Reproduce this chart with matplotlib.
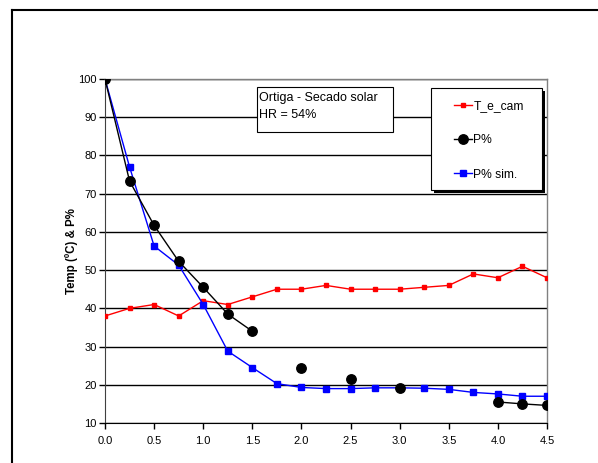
import numpy as np
import matplotlib
matplotlib.use("Agg")
from matplotlib import pyplot as plt
from matplotlib.patches import Rectangle
import matplotlib.patheffects as pe

plt.rcParams['font.family'] = ['Liberation Sans', 'DejaVu Sans']

# horas de secado
t = [0.0, 0.25, 0.5, 0.75, 1.0, 1.25, 1.5, 1.75, 2.0, 2.25,
     2.5, 2.75, 3.0, 3.25, 3.5, 3.75, 4.0, 4.25, 4.5]

t_e_cam = [38, 40, 41, 38, 42, 41, 43, 45, 45, 46,
           45, 45, 45, 45.5, 46, 49, 48, 51, 48]

nan = np.nan
p_exp = [100, 73.3, 61.7, 52.3, 45.5, 38.5, 34, nan, 24.4, nan,
         21.6, nan, 19.2, nan, nan, nan, 15.5, 15.0, 14.6]

p_sim = [100, 77, 56.3, 51.3, 41, 28.8, 24.5, 20.3, 19.3, 19,
         19, 19.2, 19.2, 19.1, 18.8, 18, 17.6, 17, 17]

fig = plt.figure(figsize=(5.98, 4.63), dpi=100)

# marco exterior del grafico
fig.add_artist(plt.Line2D([12/598, 12/598], [0, 1 - 10/463], color='black', lw=1.5))
fig.add_artist(plt.Line2D([12/598, 1], [1 - 10/463, 1 - 10/463], color='black', lw=1.5))

ax = fig.add_axes([105/598, 1 - 423/463, 442/598, 344/463])

ax.plot(t, t_e_cam, color='red', marker='s', markersize=3, lw=1, label='T_e_cam', zorder=3)
ax.plot(t, p_exp, color='black', marker='o', markersize=6.8, lw=1, label='P%', zorder=4)
ax.plot(t, p_sim, color='blue', marker='s', markersize=5, lw=1, label='P% sim.', zorder=3)

ax.set_xlim(0, 4.5)
ax.set_ylim(10, 100)
ax.set_xticks(np.arange(0, 4.51, 0.5))
ax.set_xticklabels(['%.1f' % v for v in np.arange(0, 4.51, 0.5)])
ax.set_yticks(range(10, 101, 10))
ax.yaxis.grid(True, color='black', lw=1)
ax.set_axisbelow(True)
ax.tick_params(labelsize=8, length=4, width=1, colors='black')
ax.tick_params(axis='x', pad=5)
ax.tick_params(axis='y', pad=2)

for side in ['top', 'right']:
    ax.spines[side].set_color('#808080')
    ax.spines[side].set_linewidth(1)
ax.spines['left'].set_color('#404040')
ax.spines['bottom'].set_color('black')

ax.set_ylabel('Temp (ºC) & P%', fontsize=8.3, fontweight='bold', labelpad=0)

# cuadro de texto
ax.add_patch(Rectangle((0.3439, 0.8459), 0.3077, 0.1308, transform=ax.transAxes,
                       facecolor='white', edgecolor='black', lw=0.8, clip_on=False, zorder=6))
ax.text(0.3484, 0.936, 'Ortiga - Secado solar', transform=ax.transAxes,
        fontsize=9, va='baseline', ha='left', zorder=7)
ax.text(0.3484, 0.8866, 'HR = 54%', transform=ax.transAxes,
        fontsize=9, va='baseline', ha='left', zorder=7)

# marco de la leyenda con sombra
box = Rectangle((0.7376, 0.6773), 0.2511, 0.2965, transform=ax.transAxes,
                facecolor='white', edgecolor='black', lw=0.8, clip_on=False, zorder=6)
box.set_path_effects([pe.SimplePatchShadow(offset=(2.2, -2.2), shadow_rgbFace='black', alpha=1),
                      pe.Normal()])
ax.add_patch(box)

leg = ax.legend(loc='upper left', bbox_to_anchor=(0.7896, 0.939), fontsize=8.7,
                labelspacing=1.85, handlelength=1.5, handletextpad=0.1,
                borderpad=0, borderaxespad=0, frameon=False)
leg.set_zorder(7)

fig.savefig('out.png', dpi=100)
